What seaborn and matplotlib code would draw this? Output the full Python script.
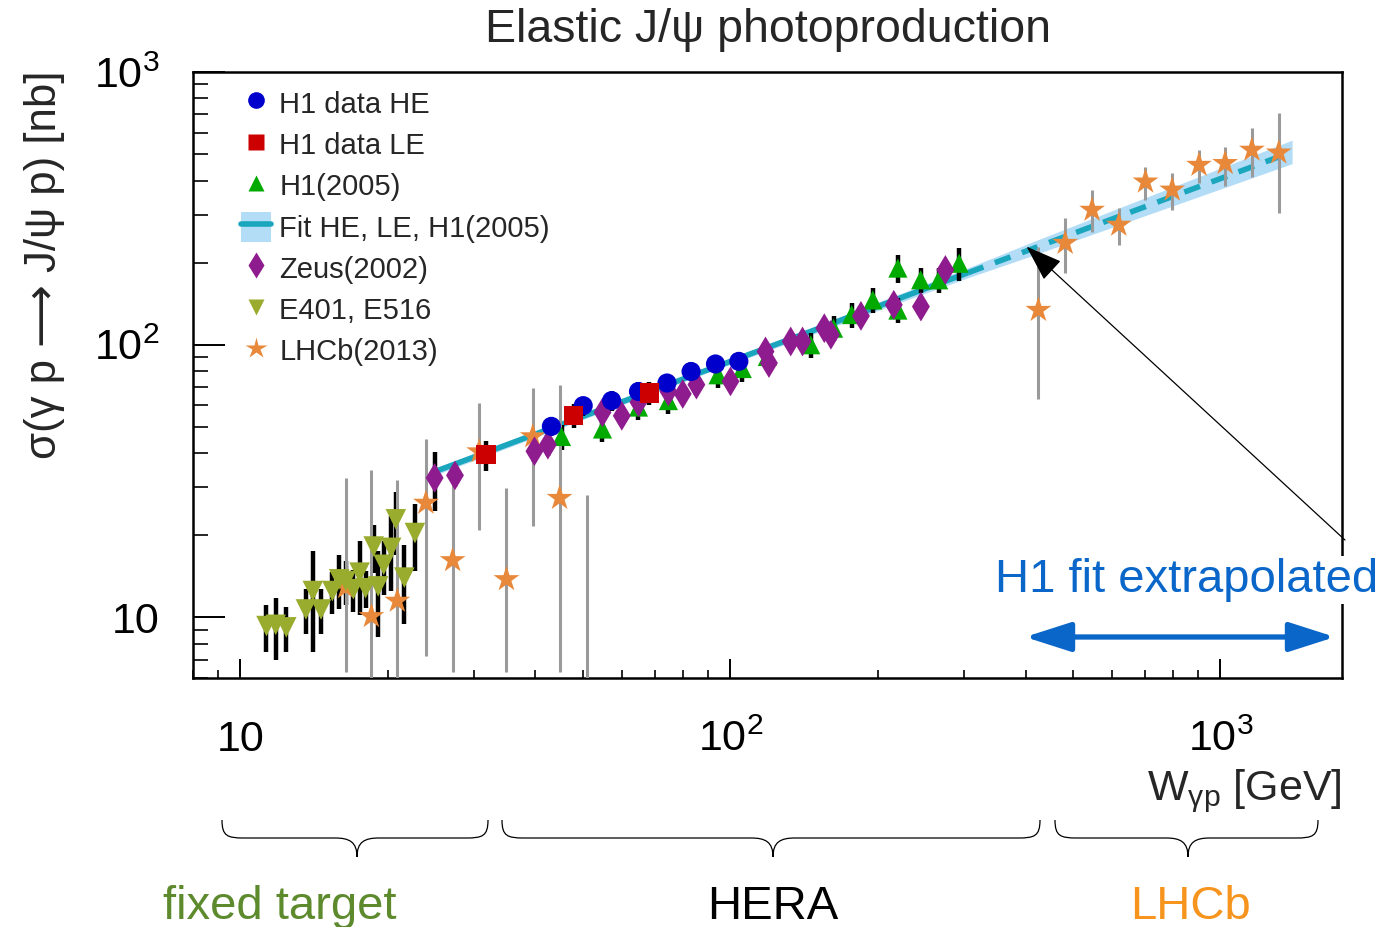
import numpy as np
import matplotlib
matplotlib.use("Agg")
import matplotlib.pyplot as plt
import seaborn as sns
from matplotlib.path import Path
from matplotlib.patches import PathPatch, Patch
from matplotlib.lines import Line2D
from matplotlib.ticker import FixedLocator, LogLocator, NullFormatter, FixedFormatter
from matplotlib.legend_handler import HandlerTuple

# ---------------- data ----------------
# E401, E516 (fixed target)
e401_W = [11.3, 11.8, 12.4, 13.6, 14.05, 14.6, 15.4, 15.9, 16.4, 17.0, 17.5, 18.0, 18.7, 19.1, 19.6, 20.3, 20.75, 21.6, 22.7]
e401_sig = [9.3, 9.4, 9.2, 10.7, 12.5, 10.7, 12.5, 13.8, 13.6, 12.7, 14.6, 12.8, 18.2, 13.0, 15.6, 18.0, 22.9, 14.0, 20.4]
e401_err = [1.8, 2.4, 1.7, 2.0, 5.0, 2.0, 2.2, 3.1, 2.5, 2.2, 4.4, 2.0, 3.6, 4.5, 3.5, 5.5, 6.0, 4.5, 5.6]

# LHCb (2013)
lhcb_W = [16.4, 18.5, 20.9, 23.9, 27.1, 30.7, 34.9, 39.5, 44.8, 50.9,
          425, 482, 547, 620, 703, 797, 904, 1022, 1159, 1315]
lhcb_sig = [12.9, 10.1, 11.5, 26.3, 16.2, 40.6, 13.8, 46.1, 27.4, 5.0,
            134, 236, 312, 275, 396, 370, 456, 463, 518, 506]
lhcb_lo = [6.3, 5.9, 5.9, 7.2, 6.3, 21.0, 6.3, 21.6, 6.3, 2.0,
           63, 183, 260, 232, 340, 312, 391, 382, 411, 304]
lhcb_hi = [32.6, 34.8, 32.0, 45.3, 34.0, 61.1, 29.9, 69.3, 71.3, 28.2,
           229, 291, 370, 317, 448, 426, 518, 533, 622, 706]

# H1 (2005)
h105_W = [45.2, 54.8, 64.9, 74.7, 94.3, 105.7, 118.9, 145.8, 162.3, 176.7, 195.2, 219.6, 219.6, 244.4, 266.0, 292.8]
h105_sig = [46.1, 49.1, 59.1, 62.4, 77.6, 81.8, 90.6, 100, 115, 129, 146, 191, 134, 173, 173, 199]
h105_err = [4.9, 5.2, 6.3, 6.6, 8.2, 8.7, 9.6, 10.6, 12.2, 13.7, 15.5, 22, 14, 18, 18, 28]

# Zeus (2002)
zeus_W = [24.9, 27.4, 39.8, 42.4, 54.8, 60.0, 64.9, 74.7, 79.9, 85.2, 100, 117.9, 119.8, 132.7, 140.3, 155.4, 160.3, 184.6, 215.4, 244.7, 274.5]
zeus_sig = [32.5, 33.2, 40.7, 43.0, 56.5, 54.9, 61.5, 67.4, 66.0, 71.4, 73.4, 94.5, 85.7, 102.8, 102.8, 115, 108.8, 127.6, 140.1, 138, 188]
zeus_err = [8.0, 3.0, 3.5, 3.8, 4.5, 4.4, 4.9, 5.4, 5.3, 5.7, 5.9, 7.6, 6.9, 8.2, 8.2, 9.2, 8.7, 10.2, 11.2, 11.0, 15]

# H1 data HE
he_W = [43.1, 50.05, 57.2, 64.9, 74.2, 83.1, 93.2, 104]
he_sig = [50.2, 59.8, 62.4, 67.4, 72.4, 79.8, 85.0, 86.9]
he_err = [4.0, 4.8, 5.0, 5.4, 5.8, 6.4, 6.8, 7.0]

# H1 data LE
le_W = [31.7, 47.9, 68.3]
le_sig = [39.5, 54.9, 66.5]
le_err = [5.0, 5.5, 6.6]

# Fit HE, LE, H1(2005):  sigma = N * (W / W0)^delta, fitted range and extrapolation
fit_norm = 81.0
fit_W0 = 90.0
fit_delta = 0.67
fit_range = [24.5, 305.0]
extrap_range = [305.0, 1400.0]
band_W = [24.5, 90, 305, 412, 1400]
band_halfwidth_log = [0.013, 0.010, 0.018, 0.025, 0.043]

x_ticks = [10, 100, 1000]
x_ticklabels = ["10", r"$\mathregular{10^{2}}$", r"$\mathregular{10^{3}}$"]
y_ticks = [10, 100, 1000]
y_ticklabels = ["10", r"$\mathregular{10^{2}}$", r"$\mathregular{10^{3}}$"]

# ---------------- style ----------------
sns.set_style("ticks")
plt.rcParams['font.family'] = ['Liberation Sans', 'DejaVu Sans']
plt.rcParams['mathtext.fontset'] = 'custom'
plt.rcParams['mathtext.rm'] = 'Liberation Sans'
plt.rcParams['mathtext.it'] = 'Liberation Sans:italic'
plt.rcParams['mathtext.bf'] = 'Liberation Sans:bold'

C_HE = "#0000cc"
C_LE = "#cc0000"
C_H105 = "#00aa00"
C_ZEUS = "#8e1c8e"
C_E401 = "#9aac2e"
C_LHCB = "#e8883a"
C_BAND = "#b3dcf7"
C_FIT = "#1aa6bd"
C_BLUE = "#0a67c9"

fig = plt.figure(figsize=(13.83, 9.27), dpi=100)
ax = fig.add_axes([193 / 1383, 1 - 678 / 927, (1342 - 193) / 1383, (678 - 72) / 927])
ax.set_xscale('log')
ax.set_yscale('log')

# fit band and lines
def fit_curve(w):
    return fit_norm * (np.asarray(w) / fit_W0) ** fit_delta

wg = np.logspace(np.log10(band_W[0]), np.log10(band_W[-1]), 300)
hw = np.interp(np.log10(wg), np.log10(band_W), band_halfwidth_log)
cen = fit_curve(wg)
ax.fill_between(wg, cen * 10 ** (-hw), cen * 10 ** hw, color=C_BAND, lw=0, zorder=1)

w_fit = np.array(fit_range)
w_ext = np.array(extrap_range)
sns.lineplot(x=w_fit, y=fit_curve(w_fit), ax=ax, color=C_FIT, lw=4.0, zorder=2,
             solid_capstyle='butt', estimator=None, sort=False)
sns.lineplot(x=w_ext, y=fit_curve(w_ext), ax=ax, color=C_FIT, lw=4.0, zorder=2,
             dashes=False, estimator=None, sort=False)
ax.lines[-1].set_linestyle((0, (3.0, 2.2)))

# error bars
ax.errorbar(e401_W, e401_sig, yerr=e401_err, fmt='none', ecolor='black', elinewidth=3.2, capsize=0, zorder=3)
ax.errorbar(h105_W, h105_sig, yerr=h105_err, fmt='none', ecolor='black', elinewidth=3.2, capsize=0, zorder=3)
ax.errorbar(zeus_W, zeus_sig, yerr=zeus_err, fmt='none', ecolor='black', elinewidth=3.2, capsize=0, zorder=3)
ax.errorbar(he_W, he_sig, yerr=he_err, fmt='none', ecolor='black', elinewidth=3.2, capsize=0, zorder=3)
ax.errorbar(le_W, le_sig, yerr=le_err, fmt='none', ecolor='black', elinewidth=3.2, capsize=0, zorder=3)
lhcb_sig_a = np.array(lhcb_sig)
ax.errorbar(lhcb_W, lhcb_sig, yerr=[lhcb_sig_a - np.array(lhcb_lo), np.array(lhcb_hi) - lhcb_sig_a],
            fmt='none', ecolor='#9a9a9a', elinewidth=2.2, capsize=0, zorder=3)

# markers
sns.scatterplot(x=lhcb_W, y=lhcb_sig, ax=ax, marker='*', s=380, color=C_LHCB, edgecolor='none', zorder=4)
sns.scatterplot(x=e401_W, y=e401_sig, ax=ax, marker='v', s=220, color=C_E401, edgecolor='none', zorder=4.5)
sns.scatterplot(x=h105_W, y=h105_sig, ax=ax, marker='^', s=190, color=C_H105, edgecolor='none', zorder=5)
sns.scatterplot(x=zeus_W, y=zeus_sig, ax=ax, marker='d', s=230, color=C_ZEUS, edgecolor='none', zorder=6)
sns.scatterplot(x=he_W, y=he_sig, ax=ax, marker='o', s=190, color=C_HE, edgecolor='none', zorder=7)
sns.scatterplot(x=le_W, y=le_sig, ax=ax, marker='s', s=190, color=C_LE, edgecolor='none', zorder=7)

ax.set_xlim(8.0, 1770)
ax.set_ylim(6.0, 1000)

# ticks
ax.xaxis.set_major_locator(FixedLocator(x_ticks))
ax.xaxis.set_major_formatter(FixedFormatter(x_ticklabels))
ax.xaxis.set_minor_locator(LogLocator(base=10, subs=np.arange(2, 10)))
ax.xaxis.set_minor_formatter(NullFormatter())
ax.yaxis.set_major_locator(FixedLocator(y_ticks))
ax.yaxis.set_major_formatter(FixedFormatter(y_ticklabels))
ax.yaxis.set_minor_locator(LogLocator(base=10, subs=np.arange(2, 10)))
ax.yaxis.set_minor_formatter(NullFormatter())
ax.tick_params(axis='x', which='major', direction='in', length=14, width=1.4, pad=30, labelsize=31, colors='black')
ax.tick_params(axis='x', which='minor', direction='in', length=6, width=1.4)
ax.tick_params(axis='y', which='major', direction='in', length=23, width=1.4, pad=24, labelsize=31, colors='black')
ax.tick_params(axis='y', which='minor', direction='in', length=11, width=1.4)
for sp in ax.spines.values():
    sp.set_visible(True)
    sp.set_linewidth(1.8)
    sp.set_color('black')
ax.set_xlabel('')
ax.set_ylabel('')

# legend
handles = [
    Line2D([], [], marker='o', ls='none', color=C_HE, mec='none', markersize=12),
    Line2D([], [], marker='s', ls='none', color=C_LE, mec='none', markersize=11),
    Line2D([], [], marker='^', ls='none', color=C_H105, mec='none', markersize=12),
    (Patch(facecolor=C_BAND, edgecolor='none'), Line2D([], [], color=C_FIT, lw=4.0)),
    Line2D([], [], marker='d', ls='none', color=C_ZEUS, mec='none', markersize=13),
    Line2D([], [], marker='v', ls='none', color=C_E401, mec='none', markersize=12),
    Line2D([], [], marker='*', ls='none', color=C_LHCB, mec='none', markersize=16),
]
labels = ["H1 data HE", "H1 data LE", "H1(2005)", "Fit HE, LE, H1(2005)", "Zeus(2002)", "E401, E516", "LHCb(2013)"]
ax.legend(handles, labels, loc='upper left', bbox_to_anchor=(0.032, 0.993), frameon=False, fontsize=21,
          handlelength=1.0, handleheight=1.2, handletextpad=0.3, labelspacing=0.36, borderpad=0.4,
          borderaxespad=0, handler_map={tuple: HandlerTuple(ndivide=1, pad=0)})

# texts
def fx(px):
    return px / 1383

def fy(py):
    return 1 - py / 927

fig.text(fx(768), fy(30), "Elastic J/ψ photoproduction", ha='center', va='center', fontsize=33.5)
fig.text(fx(45), fy(265), "σ(γ p ⟶ J/ψ p) [nb]", rotation=90, ha='center', va='center', fontsize=31.5)
fig.text(fx(1342), fy(800), r"W$_{\mathregular{\gamma p}}$ [GeV]", ha='right', va='baseline', fontsize=31)

fig.text(fx(1187), fy(580), "H1 fit extrapolated", ha='center', va='center', fontsize=34, color=C_BLUE,
         bbox=dict(facecolor='white', edgecolor='none', pad=1.5), zorder=10)

# blue double arrow
ax.annotate('', xy=(fx(1025), fy(637)), xycoords='figure fraction', xytext=(fx(1335), fy(637)),
            textcoords='figure fraction',
            arrowprops=dict(arrowstyle='<|-|>,head_length=0.5,head_width=0.16', mutation_scale=56,
                            color=C_BLUE, lw=3.8, shrinkA=0, shrinkB=0), annotation_clip=False)

# black pointer arrow to the extrapolated fit
ax.annotate('', xy=(402, 229), xycoords='data', xytext=(fx(1345), fy(540)), textcoords='figure fraction',
            arrowprops=dict(arrowstyle='-|>,head_length=0.4,head_width=0.14', mutation_scale=58,
                            color='black', lw=0.9, shrinkA=0, shrinkB=0), annotation_clip=False, zorder=9)

# braces under the axis
def brace(x0, x1, xc, ytop=820, ymid=838, ybot=857, r=22):
    verts = [
        (x0, ytop), (x0, ytop + 0.9 * (ymid - ytop)), (x0 + 0.25 * r, ymid), (x0 + r, ymid),
        (xc - r, ymid),
        (xc - 0.35 * r, ymid), (xc, ymid + 0.2 * (ybot - ymid)), (xc, ybot),
        (xc, ymid + 0.2 * (ybot - ymid)), (xc + 0.35 * r, ymid), (xc + r, ymid),
        (x1 - r, ymid),
        (x1 - 0.25 * r, ymid), (x1, ytop + 0.9 * (ymid - ytop)), (x1, ytop),
    ]
    codes = [Path.MOVETO, Path.CURVE4, Path.CURVE4, Path.CURVE4,
             Path.LINETO,
             Path.CURVE4, Path.CURVE4, Path.CURVE4,
             Path.CURVE4, Path.CURVE4, Path.CURVE4,
             Path.LINETO,
             Path.CURVE4, Path.CURVE4, Path.CURVE4]
    verts = [(fx(x), fy(y)) for x, y in verts]
    fig.add_artist(PathPatch(Path(verts, codes), transform=fig.transFigure, fill=False,
                             edgecolor='black', lw=0.9))

brace(222, 488, 357)
brace(502, 1040, 773)
brace(1055, 1318, 1188)

fig.text(fx(280), fy(919), "fixed target", ha='center', va='baseline', fontsize=34, color="#5e8a2e")
fig.text(fx(773), fy(919), "HERA", ha='center', va='baseline', fontsize=34, color="black")
fig.text(fx(1190), fy(919), "LHCb", ha='center', va='baseline', fontsize=34, color="#f7941d")

fig.savefig("out.png", dpi=100)
